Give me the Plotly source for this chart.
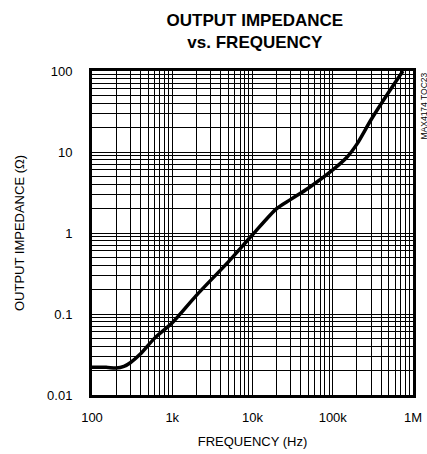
import plotly.graph_objects as go

# output impedance vs frequency
freq_hz = [100, 150, 200, 250, 300, 400, 600, 1000, 2000, 5000, 10000,
           20000, 30000, 50000, 100000, 150000, 200000, 300000, 500000, 750000]
impedance_ohm = [0.022, 0.022, 0.0215, 0.0225, 0.025, 0.032, 0.05, 0.078, 0.17,
                 0.44, 0.95, 2.0, 2.6, 3.6, 6.0, 8.6, 12.5, 25.0, 55.0, 100.0]

x_ticks = [100, 1000, 10000, 100000, 1000000]
x_labels = ["100", "1k", "10k", "100k", "1M"]
y_ticks = [0.01, 0.1, 1, 10, 100]
y_labels = ["0.01", "0.1", "1", "10", "100"]

FONT = "Liberation Sans"

fig = go.Figure()
fig.add_trace(go.Scatter(x=freq_hz, y=impedance_ohm, mode="lines",
                         line=dict(color="black", width=3.5, shape="spline", smoothing=0.8)))

axis_common = dict(
    type="log", showline=True, linecolor="black", linewidth=3, mirror=True,
    showgrid=True, gridcolor="black", gridwidth=1, ticks="", zeroline=False,
    automargin=False, ticklabeloverflow="allow",
    tickfont=dict(family=FONT, size=13, color="black"),
    minor=dict(showgrid=True, gridcolor="black", gridwidth=1, dtick="D1"),
)

fig.update_xaxes(range=[2, 6], tickvals=x_ticks, ticktext=x_labels, ticklabelstandoff=8,
                 title=dict(text="FREQUENCY (Hz)", standoff=14,
                            font=dict(family=FONT, size=13, color="black")),
                 **axis_common)
fig.update_yaxes(range=[-2, 2], tickvals=y_ticks, ticktext=y_labels, ticklabelstandoff=14,
                 title=dict(text="OUTPUT IMPEDANCE (Ω)", standoff=20,
                            font=dict(family=FONT, size=13, color="black")),
                 **axis_common)

fig.update_layout(
    width=427, height=454,
    margin=dict(l=92, r=14, t=71, b=59, autoexpand=False),
    paper_bgcolor="white", plot_bgcolor="white",
    showlegend=False,
    title=dict(text="OUTPUT IMPEDANCE<br>vs. FREQUENCY", x=0.597, xanchor="center",
               y=0.942, yanchor="top",
               font=dict(family=FONT, size=17, color="black", weight="bold")),
)

fig.add_annotation(text="MAX4174 TOC23", textangle=-90, xref="paper", yref="paper",
                   x=1.0, y=1.0, xanchor="left", yanchor="top", xshift=3, showarrow=False,
                   font=dict(family=FONT, size=8.5, color="black"))

# drop the default page margin so the figure sits at the window's corner
fig.write_html("out.html", config={"displayModeBar": False},
               post_script="document.body.style.margin='0';")
